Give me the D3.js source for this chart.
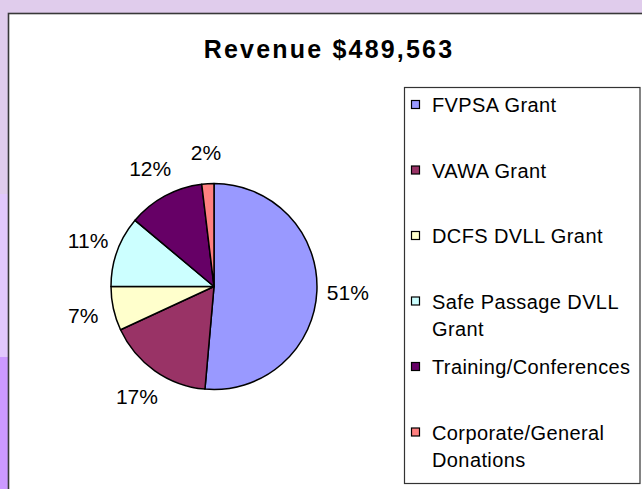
<!DOCTYPE html>
<html>
<head>
<meta charset="utf-8">
<script src="https://cdn.jsdelivr.net/npm/d3@7"></script>
<style>
  html, body { margin: 0; padding: 0; background: #fff; }
  svg { display: block; }
  text { font-family: "Liberation Sans", Arial, sans-serif; fill: #000; }
</style>
</head>
<body>
<svg id="chart" width="642" height="489"></svg>
<script>
// ---- data ----
const chartTitle = "Revenue $489,563";
const categories = [
  "FVPSA Grant",
  "VAWA Grant",
  "DCFS DVLL Grant",
  "Safe Passage DVLL Grant",
  "Training/Conferences",
  "Corporate/General Donations"
];
const legendLines = [
  ["FVPSA Grant"],
  ["VAWA Grant"],
  ["DCFS DVLL Grant"],
  ["Safe Passage DVLL", "Grant"],
  ["Training/Conferences"],
  ["Corporate/General", "Donations"]
];
const shares = [51.4, 16.7, 6.9, 11.1, 12.0, 1.9];
const colors = ["#9999ff", "#993366", "#ffffcc", "#ccffff", "#660066", "#ff8080"];

// ---- layout ----
const W = 642, H = 489;
const svg = d3.select("#chart");

// background bands (slide background)
svg.append("rect").attr("x", 0).attr("y", 0).attr("width", W).attr("height", H).attr("fill", "#e0ccec");
svg.append("rect").attr("x", 0).attr("y", 194).attr("width", 20).attr("height", 163).attr("fill", "#e2c8fd");
svg.append("rect").attr("x", 0).attr("y", 357).attr("width", 20).attr("height", 132).attr("fill", "#cc99ff");

// chart area
svg.append("rect")
  .attr("x", 8.5).attr("y", 13.5).attr("width", W + 10).attr("height", H + 10)
  .attr("fill", "#ffffff").attr("stroke", "#383838").attr("stroke-width", 1.6);

// title
svg.append("text")
  .attr("x", 329).attr("y", 57.5)
  .attr("text-anchor", "middle")
  .style("font-size", "25px").style("font-weight", "bold").style("letter-spacing", "2.2px")
  .text(chartTitle);

// pie
const cx = 214, cy = 286.5, R = 103;
const total = d3.sum(shares);
const pie = d3.pie().sort(null).value(d => d)(shares);
const arc = d3.arc().innerRadius(0).outerRadius(R);
const labelArc = d3.arc().innerRadius(134).outerRadius(134);

const g = svg.append("g").attr("transform", `translate(${cx},${cy})`);
g.selectAll("path.slice")
  .data(pie)
  .join("path")
  .attr("class", "slice")
  .attr("d", arc)
  .attr("fill", (d, i) => colors[i])
  .attr("stroke", "#000")
  .attr("stroke-width", 1.5)
  .attr("stroke-linejoin", "round");

g.selectAll("text.lbl")
  .data(pie)
  .join("text")
  .attr("class", "lbl")
  .attr("transform", d => `translate(${labelArc.centroid(d)})`)
  .attr("text-anchor", "middle")
  .attr("dy", "0.36em")
  .style("font-size", "21px")
  .text(d => Math.round(d.value / total * 100) + "%");

// legend
const lg = svg.append("g");
lg.append("rect")
  .attr("x", 404.5).attr("y", 87.5).attr("width", 235.5).attr("height", 396)
  .attr("fill", "#fff").attr("stroke", "#333").attr("stroke-width", 1.2);

const rowY = d3.scaleLinear().domain([0, categories.length - 1]).range([105, 432.5]);
const items = lg.selectAll("g.item")
  .data(categories)
  .join("g")
  .attr("class", "item")
  .attr("transform", (d, i) => `translate(0,${rowY(i)})`);

items.append("rect")
  .attr("x", 411.5).attr("y", -4.5).attr("width", 8).attr("height", 8)
  .attr("fill", (d, i) => colors[i])
  .attr("stroke", "#000").attr("stroke-width", 1.2);

items.each(function(d, i) {
  const t = d3.select(this).append("text")
    .attr("x", 432).attr("y", 0)
    .style("font-size", "20px").style("letter-spacing", "0.4px");
  legendLines[i].forEach((line, j) => {
    t.append("tspan").attr("x", 432).attr("y", j * 27).attr("dy", "0.36em").text(line);
  });
});
</script>
</body>
</html>
